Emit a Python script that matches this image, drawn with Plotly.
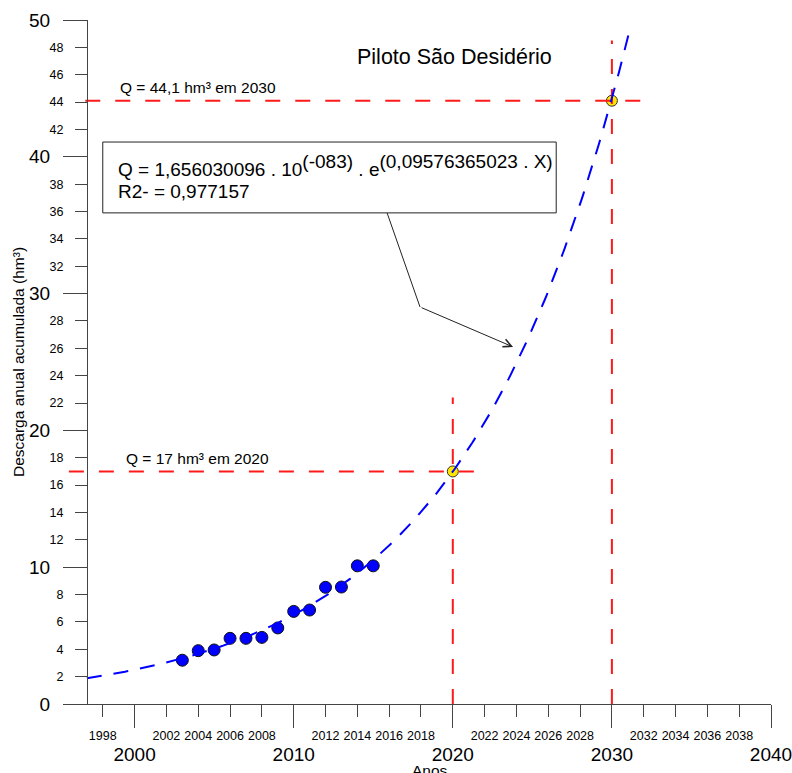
import numpy as np
import plotly.graph_objects as go

# ---- data ----
anos = [2003, 2004, 2005, 2006, 2007, 2008, 2009, 2010, 2011, 2012, 2013, 2014, 2015]
descarga = [3.2, 3.9, 3.95, 4.8, 4.8, 4.87, 5.56, 6.77, 6.87, 8.53, 8.55, 10.1, 10.1]

# fitted model shown on the chart: Q = A * e^(B * X)
coef_A = 1.656030096e-83
coef_B = 0.09576365023
fit_start, fit_end = 1997.0, 2031.15

proj_anos = [2020, 2030]
proj_q = [17.0, 44.1]

major_x = [2000, 2010, 2020, 2030, 2040]
minor_x = [1998, 2002, 2004, 2006, 2008, 2012, 2014, 2016, 2018,
           2022, 2024, 2026, 2028, 2032, 2034, 2036, 2038]
major_y = [0, 10, 20, 30, 40, 50]
minor_y = [2, 4, 6, 8, 12, 14, 16, 18, 22, 24, 26, 28, 32, 34, 36, 38, 42, 44, 46, 48]

X_RANGE = [1995.5, 2040]
Y_RANGE = [0, 50]
Y_AXIS_AT = 1997.0

FONT = "Liberation Sans, Arial, sans-serif"
AX = "#444444"

fit_x = np.linspace(fit_start, fit_end, 300)
fit_y = coef_A * np.exp(coef_B * fit_x)

fig = go.Figure()

# helper traces so the overlay (minor-label) axes are drawn
fig.add_trace(go.Scatter(x=[2000], y=[1], xaxis="x2", yaxis="y", mode="markers",
                         marker=dict(opacity=0), hoverinfo="skip"))
fig.add_trace(go.Scatter(x=[2000], y=[1], xaxis="x", yaxis="y2", mode="markers",
                         marker=dict(opacity=0), hoverinfo="skip"))

# observed points
fig.add_trace(go.Scatter(x=anos, y=descarga, mode="markers",
                         marker=dict(size=12, color="#0000FF",
                                     line=dict(color="#111111", width=1))))
# projected points
fig.add_trace(go.Scatter(x=proj_anos, y=proj_q, mode="markers",
                         marker=dict(size=11, color="#FFE600",
                                     line=dict(color="#333333", width=1))))
# red guide lines
red = dict(color="#FF1A1A", width=2, dash="15px,15px")
fig.add_trace(go.Scatter(x=[1995.87, 2021.5], y=[proj_q[0], proj_q[0]], mode="lines", line=red))
fig.add_trace(go.Scatter(x=[proj_anos[0], proj_anos[0]], y=[0, 22.4], mode="lines", line=red))
fig.add_trace(go.Scatter(x=[1996.9, 2032.1], y=[proj_q[1], proj_q[1]], mode="lines", line=red))
fig.add_trace(go.Scatter(x=[proj_anos[1], proj_anos[1]], y=[0, 48.5], mode="lines", line=red))
# fitted curve
fig.add_trace(go.Scatter(x=fit_x, y=fit_y, mode="lines",
                         line=dict(color="#0000FF", width=2, dash="15px,12px")))

# equation box
fig.add_shape(type="rect", xref="x", yref="y", x0=1998.0, x1=2026.5, y0=35.9, y1=41.08,
              line=dict(color="#222222", width=1), fillcolor="white", layer="above")
# arrow first segment
fig.add_shape(type="line", xref="x", yref="y", x0=2015.87, y0=35.9, x1=2017.94, y1=29.02,
              line=dict(color="#222222", width=1))
fig.add_annotation(x=2023.79, y=26.1, ax=2017.94, ay=29.02, xref="x", yref="y",
                   axref="x", ayref="y", text="", showarrow=True, arrowhead=5,
                   arrowsize=1.6, arrowwidth=1, arrowcolor="#222222")

sup = "<sup><span style='font-size:19px'>{}</span></sup>"
eq1 = "Q = 1,656030096 . 10" + sup.format("(-083)") + " . e" + sup.format("(0,09576365023 . X)")
fig.add_annotation(x=1998.82, y=39.36, xref="x", yref="y", text=eq1, showarrow=False,
                   xanchor="left", yanchor="middle", font=dict(size=19, color="black", family=FONT))
fig.add_annotation(x=1998.82, y=37.45, xref="x", yref="y", text="R2- = 0,977157", showarrow=False,
                   xanchor="left", yanchor="middle", font=dict(size=19, color="black", family=FONT))

fig.add_annotation(x=1998.95, y=45.1, xref="x", yref="y", text="Q = 44,1 hm³ em 2030",
                   showarrow=False, xanchor="left", yanchor="middle",
                   font=dict(size=15.5, color="black", family=FONT))
fig.add_annotation(x=1999.33, y=17.98, xref="x", yref="y", text="Q = 17 hm³ em 2020",
                   showarrow=False, xanchor="left", yanchor="middle",
                   font=dict(size=15.5, color="black", family=FONT))
fig.add_annotation(x=2020.08, y=47.3, xref="x", yref="y", text="Piloto São Desidério",
                   showarrow=False, xanchor="center", yanchor="middle",
                   font=dict(size=21.5, color="black", family=FONT))
fig.add_annotation(x=0.518, y=-0.0965, xref="paper", yref="paper", text="Anos",
                   showarrow=False, xanchor="center", yanchor="middle",
                   font=dict(size=15.5, color="black", family=FONT))
fig.add_annotation(x=-0.0636, y=0.5, xref="paper", yref="paper",
                   text="Descarga anual acumulada (hm³)", textangle=-90,
                   showarrow=False, xanchor="center", yanchor="middle",
                   font=dict(size=15.5, color="black", family=FONT))

ypos = (Y_AXIS_AT - X_RANGE[0]) / (X_RANGE[1] - X_RANGE[0])

fig.update_layout(
    width=792, height=773,
    margin=dict(l=63, r=21, t=20, b=69, autoexpand=False),
    paper_bgcolor="white", plot_bgcolor="white",
    showlegend=False,
    font=dict(family=FONT, color="black"),
    xaxis=dict(range=X_RANGE, tickmode="array", tickvals=major_x,
               ticktext=[str(v) for v in major_x], automargin=False,
               ticks="outside", ticklen=23, tickwidth=1, tickcolor=AX,
               showline=True, linecolor=AX, linewidth=1,
               showgrid=False, zeroline=False, tickfont=dict(size=19),
               ticklabelstandoff=10, ticklabeloverflow="allow"),
    xaxis2=dict(range=X_RANGE, overlaying="x", anchor="y", side="bottom",
                tickmode="array", tickvals=minor_x, ticktext=[str(v) for v in minor_x],
                ticks="outside", ticklen=12, tickwidth=1, tickcolor=AX, automargin=False,
                showline=False, showgrid=False, zeroline=False,
                tickfont=dict(size=12.5), ticklabelstandoff=8),
    yaxis=dict(range=Y_RANGE, anchor="free", position=ypos, tickmode="array",
               tickvals=major_y, ticktext=[str(v) for v in major_y], automargin=False,
               ticks="outside", ticklen=24, tickwidth=1, tickcolor=AX,
               showline=True, linecolor=AX, linewidth=1,
               showgrid=False, zeroline=False, tickfont=dict(size=19),
               ticklabelstandoff=9),
    yaxis2=dict(range=Y_RANGE, overlaying="y", anchor="free", position=ypos, side="left",
                tickmode="array", tickvals=minor_y, ticktext=[str(v) for v in minor_y],
                ticks="outside", ticklen=12, tickwidth=1, tickcolor=AX, automargin=False,
                showline=False, showgrid=False, zeroline=False,
                tickfont=dict(size=12.5), ticklabelstandoff=9),
)

fig.write_html("out.html")
